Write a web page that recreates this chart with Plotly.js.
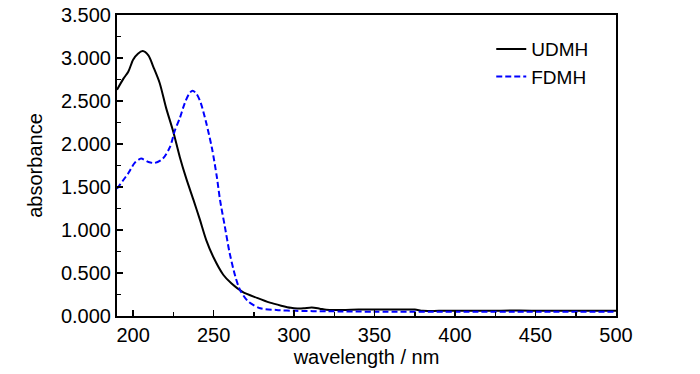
<!DOCTYPE html>
<html>
<head>
<meta charset="utf-8">
<script src="https://cdn.plot.ly/plotly-3.0.1.min.js"></script>
<style>html,body{margin:0;padding:0;background:#fff;}#chart{width:700px;height:374px;}</style>
</head>
<body>
<div id="chart"></div>
<script>
// UDMH spectrum
const udmhWavelength = [190,194,197,200,203,206,209.5,212.5,216.5,220.5,225,229,233,237.5,241.5,245.5,250,256,261,268,277,285,292,298,302,306,311,316,320,330,340,350,365,375,380,390,400,420,440,460,480,500];
const udmhAbsorbance = [2.63,2.76,2.84,2.98,3.05,3.08,3.03,2.90,2.71,2.42,2.14,1.85,1.60,1.35,1.12,0.88,0.68,0.48,0.38,0.28,0.21,0.155,0.12,0.095,0.088,0.09,0.10,0.085,0.072,0.07,0.075,0.075,0.075,0.075,0.06,0.06,0.06,0.06,0.065,0.06,0.06,0.06];
// FDMH spectrum
const fdmhWavelength = [190,193.5,197,201,205,209.5,213.5,218.5,223,226,229,232,235,237,239.5,242,245.5,249,252,254,257,260,263.5,266.5,271.5,279,289,301,320,350,400,450,500];
const fdmhAbsorbance = [1.48,1.57,1.66,1.78,1.83,1.79,1.78,1.83,1.97,2.16,2.30,2.47,2.59,2.62,2.58,2.48,2.24,1.95,1.62,1.35,1.04,0.73,0.46,0.30,0.17,0.09,0.07,0.06,0.055,0.05,0.05,0.05,0.05];
const seriesNames = ['UDMH','FDMH'];
const xTicks = [200,250,300,350,400,450,500];
const yTicks = [0,0.5,1,1.5,2,2.5,3,3.5];

const FONT = 'Liberation Sans, Arial, sans-serif';
const traces = [
  {x: udmhWavelength, y: udmhAbsorbance, name: seriesNames[0], type: 'scatter', mode: 'lines',
   line: {color: '#000000', width: 2, shape: 'spline', smoothing: 0.8}},
  {x: fdmhWavelength, y: fdmhAbsorbance, name: seriesNames[1], type: 'scatter', mode: 'lines',
   line: {color: '#0000ff', width: 2, dash: '6px,3px', shape: 'spline', smoothing: 0.8}}
];
const axisCommon = {
  showline: true, linecolor: '#000', linewidth: 2, mirror: true,
  showgrid: false, zeroline: false, ticks: 'inside', ticklen: 6, tickwidth: 1.5, tickcolor: '#000',
  tickfont: {family: FONT, size: 20, color: '#000'}
};
const layout = {
  width: 700, height: 374,
  margin: {l: 117, r: 84, t: 15, b: 58},
  paper_bgcolor: '#fff', plot_bgcolor: '#fff',
  font: {family: FONT, color: '#000'},
  showlegend: true,
  legend: {x: 0.75, y: 0.95, xanchor: 'left', yanchor: 'top', bgcolor: 'rgba(0,0,0,0)',
           font: {family: FONT, size: 19, color: '#000'}, tracegroupgap: 0},
  xaxis: Object.assign({}, axisCommon, {
    range: [190, 500], tickvals: xTicks, ticktext: xTicks.map(String),
    minor: {dtick: 25, tick0: 0, ticks: 'inside', ticklen: 4, tickcolor: '#000', tickwidth: 1.5},
    title: {text: 'wavelength / nm', font: {family: FONT, size: 20, color: '#000'}, standoff: 1}
  }),
  yaxis: Object.assign({}, axisCommon, {
    range: [0, 3.5], tickvals: yTicks, ticktext: yTicks.map(v => v.toFixed(3)),
    minor: {dtick: 0.25, tick0: 0, ticks: 'inside', ticklen: 4, tickcolor: '#000', tickwidth: 1.5},
    title: {text: 'absorbance', font: {family: FONT, size: 20, color: '#000'}, standoff: 13}
  })
};
Plotly.newPlot('chart', traces, layout, {displayModeBar: false, staticPlot: true});
</script>
</body>
</html>
